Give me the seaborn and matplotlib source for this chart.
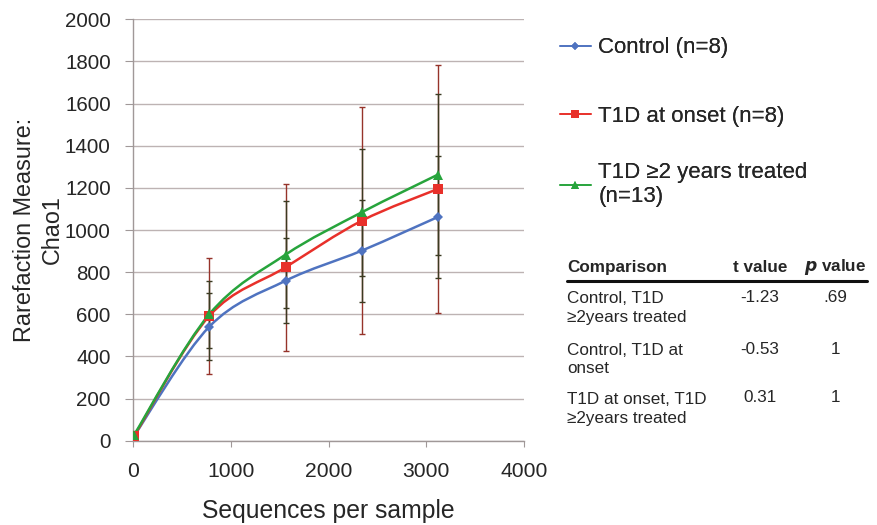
import seaborn as sns
import numpy as np
import pandas as pd
import matplotlib.pyplot as plt
from matplotlib.path import Path
from matplotlib.patches import PathPatch

# Rarefaction data (Chao1)
x = [10, 780, 1560, 2340, 3120]
control = [22, 541, 759, 902, 1062]
control_err = [0, 159, 202, 242, 288]
onset = [22, 592, 823, 1044, 1195]
onset_err = [0, 274, 395, 538, 590]
treated = [27, 600, 883, 1084, 1263]
treated_err = [0, 158, 255, 300, 382]

labels = ["Control (n=8)", "T1D at onset (n=8)", "T1D \u22652 years treated\n(n=13)"]
colors = ["#4f73c0", "#e8302a", "#27a43c"]
markers = ["D", "s", "^"]
msizes = [5, 7, 7.5]
err_colors = ["#3b3b22", "#96332a", "#3b3b22"]

# comparison table
comparisons = ["Control, T1D\n\u22652years treated", "Control, T1D at\nonset",
               "T1D at onset, T1D\n\u22652years treated"]
t_values = ["-1.23", "-0.53", "0.31"]
p_values = [".69", "1", "1"]

sns.set_style("white")
plt.rcParams['font.family'] = ['Liberation Sans', 'DejaVu Sans']

fig = plt.figure(figsize=(8.77, 5.25), dpi=100)
ax = fig.add_axes([0.1517, 0.1606, 0.4458, 0.8026])

df = pd.DataFrame({
    "x": x * 3,
    "y": control + onset + treated,
    "group": [labels[0]] * 5 + [labels[1]] * 5 + [labels[2]] * 5,
})


def smooth_path(xs, ys):
    # Excel-like smoothed line as a cubic Bezier path through the points
    pts = np.column_stack([xs, ys]).astype(float)
    verts = [pts[0]]
    codes = [Path.MOVETO]
    n = len(pts)
    for i in range(n - 1):
        p0 = pts[i - 1] if i > 0 else pts[i]
        p1, p2 = pts[i], pts[i + 1]
        p3 = pts[i + 2] if i + 2 < n else pts[i + 1]
        c1 = p1 + (p2 - p0) / 6
        c2 = p2 - (p3 - p1) / 6
        verts += [c1, c2, p2]
        codes += [Path.CURVE4] * 3
    return Path(verts, codes)


series = [(control, control_err), (onset, onset_err), (treated, treated_err)]
# error bars first (behind lines), widest (red) drawn first
for idx in [1, 0, 2]:
    ys, es = series[idx]
    ax.errorbar(x[1:], ys[1:], yerr=es[1:], fmt="none", ecolor=err_colors[idx],
                elinewidth=1.0, capsize=2.5, capthick=1.0, zorder=2)

for (ys, es), c in zip(series, colors):
    ax.add_patch(PathPatch(smooth_path(x, ys), facecolor="none", edgecolor=c,
                           linewidth=1.8, zorder=3))

sns.lineplot(data=df, x="x", y="y", hue="group", style="group",
             palette=colors, markers=markers, dashes=False, linewidth=0,
             markersize=7, markeredgewidth=0, ax=ax, zorder=4, legend=False)
for line, ms in zip(ax.lines[-3:], msizes):
    line.set_markersize(ms)

ax.set_xlim(0, 4000)
ax.set_ylim(0, 2000)
ax.set_xticks([0, 1000, 2000, 3000, 4000])
ax.set_yticks(range(0, 2001, 200))
ax.grid(axis="y", color="#bdb3b3", linewidth=1.0)
ax.set_axisbelow(True)
for s in ["top", "right"]:
    ax.spines[s].set_visible(False)
for s in ["left", "bottom"]:
    ax.spines[s].set_color("#a09898")
    ax.spines[s].set_linewidth(1.0)
ax.tick_params(axis="y", labelsize=14.8, length=6, pad=10,
               color="#a09898", direction="out", left=True)
ax.tick_params(axis="x", labelsize=15.2, length=4, pad=11,
               color="#a09898", direction="out", bottom=True)
ax.set_xlabel("Sequences per sample", fontsize=17.8)
ax.xaxis.set_label_coords(0.5, -0.138)
ax.set_ylabel("Rarefaction Measure:\nChao1", fontsize=16.8, linespacing=1.25)
ax.yaxis.set_label_coords(-0.178, 0.5)

# legend: one entry per block, spaced like the original
legend_y = [0.9086, 0.779, 0.648]
for c, m, ms, lab, ly in zip(colors, markers, msizes, labels, legend_y):
    h = plt.Line2D([], [], color=c, marker=m, markersize=ms * 0.8, markeredgewidth=0,
                   linewidth=1.2)
    fig.add_artist(fig.legend([h], [lab], loc="center left", bbox_to_anchor=(0.638, ly),
                              frameon=False, fontsize=16, handlelength=1.4,
                              handletextpad=0.35, borderaxespad=0, borderpad=0))

# table
fs = 12.3
fig.text(0.6465, 0.491, "Comparison", fontsize=fs, fontweight="bold", va="center")
fig.text(0.8666, 0.491, "t value", fontsize=fs, fontweight="bold", va="center", ha="center")
fig.text(0.9527, 0.491, "$\\boldsymbol{p}$ value", fontsize=fs, fontweight="bold",
         va="center", ha="center")
fig.add_artist(plt.Line2D([0.6465, 0.989], [0.4647, 0.4647], color="#111111", linewidth=2.2))
row_y = [0.413, 0.315, 0.221]
val_y = [0.434, 0.335, 0.242]
for yy, vy, comp, tv, pv in zip(row_y, val_y, comparisons, t_values, p_values):
    fig.text(0.6465, yy, comp, fontsize=fs, va="center", linespacing=1.3)
    fig.text(0.8666, vy, tv, fontsize=fs, va="center", ha="center")
    fig.text(0.9527, vy, pv, fontsize=fs, va="center", ha="center")

fig.savefig("out.png", dpi=100)
